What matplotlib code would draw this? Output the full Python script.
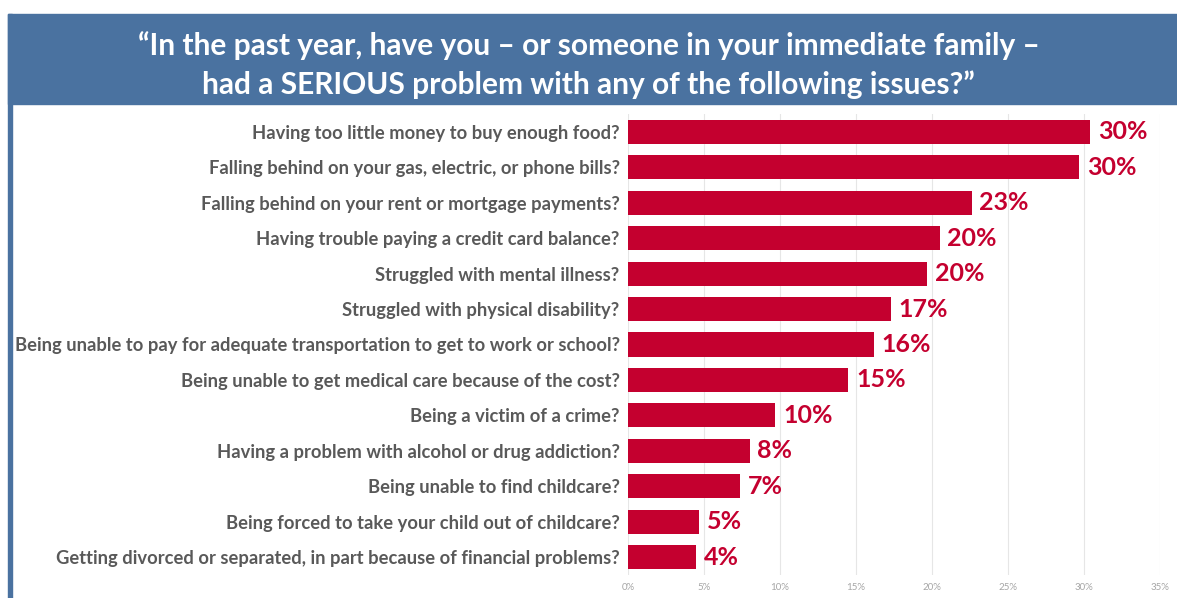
import matplotlib.pyplot as plt
from matplotlib.patches import Rectangle

issues = [
    "Having too little money to buy enough food?",
    "Falling behind on your gas, electric, or phone bills?",
    "Falling behind on your rent or mortgage payments?",
    "Having trouble paying a credit card balance?",
    "Struggled with mental illness?",
    "Struggled with physical disability?",
    "Being unable to pay for adequate transportation to get to work or school?",
    "Being unable to get medical care because of the cost?",
    "Being a victim of a crime?",
    "Having a problem with alcohol or drug addiction?",
    "Being unable to find childcare?",
    "Being forced to take your child out of childcare?",
    "Getting divorced or separated, in part because of financial problems?",
]
values = [30.4, 29.7, 22.6, 20.5, 19.7, 17.3, 16.2, 14.5, 9.7, 8.0, 7.4, 4.7, 4.5]
labels = ["30%", "30%", "23%", "20%", "20%", "17%", "16%", "15%", "10%", "8%", "7%", "5%", "4%"]
ticks = [0, 5, 10, 15, 20, 25, 30, 35]

title = ("\u201cIn the past year, have you \u2013 or someone in your immediate family \u2013\n"
         "had a SERIOUS problem with any of the following issues?\u201d")

blue = "#4a72a0"
red = "#c4002f"
gray = "#595959"

plt.rcParams["font.family"] = ["Lato", "DejaVu Sans"]

fig = plt.figure(figsize=(11.77, 5.98), dpi=100)

# title banner and left border
fig.patches.append(Rectangle((8 / 1177, 1 - 104 / 598), 1 - 8 / 1177, 90 / 598,
                             transform=fig.transFigure, color=blue, zorder=0))
fig.patches.append(Rectangle((8 / 1177, 0), 4 / 1177, 1 - 14 / 598,
                             transform=fig.transFigure, color=blue, zorder=0))
fig.text(0.5, 1 - 65 / 598, title, ha="center", va="center", color="white",
         fontsize=21.5, fontweight="bold", linespacing=1.42)

ax = fig.add_axes([628 / 1177, 1 - 575 / 598, (1160 - 628) / 1177, (575 - 114) / 598])
y = list(range(len(issues)))
ax.barh(y, values, height=0.68, color=red, zorder=2)
for yi, v, lab in zip(y, values, labels):
    ax.text(v + 0.5, yi, lab, va="center", ha="left", color=red,
            fontsize=18, fontweight="bold")

ax.set_ylim(len(issues) - 0.5, -0.5)
ax.set_xlim(0, 35)
ax.set_xticks(ticks)
ax.set_xticklabels([f"{t}%" for t in ticks], color="#a6a6a6", fontsize=7)
ax.set_yticks(y)
ax.set_yticklabels(issues, color=gray, fontsize=13.2, fontweight="bold")
ax.tick_params(length=0, pad=6)
ax.grid(axis="x", color="#e6e6e6", lw=0.8, zorder=0)
for s in ax.spines.values():
    s.set_visible(False)

fig.savefig("out.png", dpi=100)
